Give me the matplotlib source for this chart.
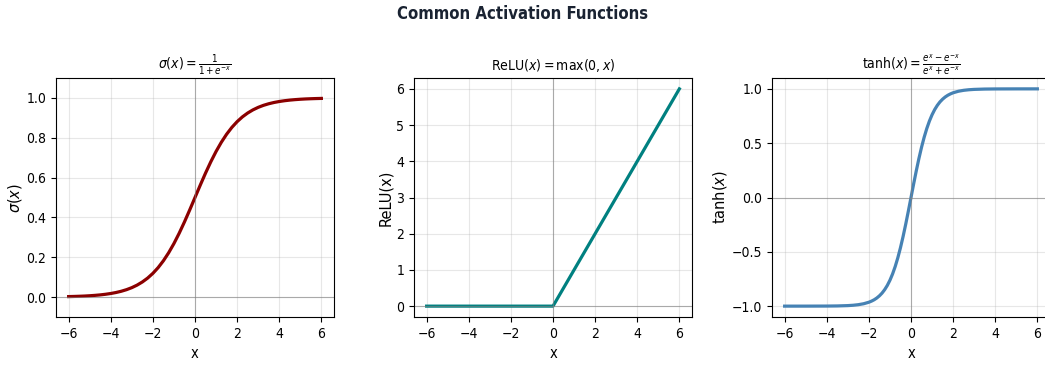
import matplotlib
matplotlib.use("Agg")
import matplotlib.pyplot as plt
from matplotlib import font_manager

# ---- data ----
sig_x = [-6, -5.75, -5.5, -5.25, -5, -4.75, -4.5, -4.25, -4, -3.75, -3.5,
         -3.25, -3, -2.75, -2.5, -2.25, -2, -1.75, -1.5, -1.25, -1, -0.75,
         -0.5, -0.25, 0, 0.25, 0.5, 0.75, 1, 1.25, 1.5, 1.75, 2, 2.25, 2.5,
         2.75, 3, 3.25, 3.5, 3.75, 4, 4.25, 4.5, 4.75, 5, 5.25, 5.5, 5.75, 6]
sig_y = [0.0025, 0.0032, 0.0041, 0.0052, 0.0067, 0.0086, 0.0110, 0.0141,
         0.0180, 0.0230, 0.0293, 0.0373, 0.0474, 0.0601, 0.0759, 0.0953,
         0.1192, 0.1480, 0.1824, 0.2227, 0.2689, 0.3208, 0.3775, 0.4378,
         0.5, 0.5622, 0.6225, 0.6792, 0.7311, 0.7773, 0.8176, 0.8520,
         0.8808, 0.9047, 0.9241, 0.9399, 0.9526, 0.9627, 0.9707, 0.9770,
         0.9820, 0.9859, 0.9890, 0.9914, 0.9933, 0.9948, 0.9959, 0.9968,
         0.9975]

relu_x = [-6, 0, 6]
relu_y = [0, 0, 6]

tanh_x = [-6, -5, -4, -3.5, -3, -2.75, -2.5, -2.25, -2, -1.875, -1.75,
          -1.625, -1.5, -1.375, -1.25, -1.125, -1, -0.875, -0.75, -0.625,
          -0.5, -0.375, -0.25, -0.125, 0, 0.125, 0.25, 0.375, 0.5, 0.625,
          0.75, 0.875, 1, 1.125, 1.25, 1.375, 1.5, 1.625, 1.75, 1.875, 2,
          2.25, 2.5, 2.75, 3, 3.5, 4, 5, 6]
tanh_y = [-1.0, -0.9999, -0.9993, -0.9982, -0.9951, -0.9919, -0.9866,
          -0.9780, -0.9640, -0.9539, -0.9414, -0.9254, -0.9051, -0.8800,
          -0.8483, -0.8094, -0.7616, -0.7039, -0.6351, -0.5546, -0.4621,
          -0.3584, -0.2449, -0.1244, 0.0, 0.1244, 0.2449, 0.3584, 0.4621,
          0.5546, 0.6351, 0.7039, 0.7616, 0.8094, 0.8483, 0.8800, 0.9051,
          0.9254, 0.9414, 0.9539, 0.9640, 0.9780, 0.9866, 0.9919, 0.9951,
          0.9982, 0.9993, 0.9999, 1.0]

x_ticks = [-6, -4, -2, 0, 2, 4, 6]
y_ticks = [[0.0, 0.2, 0.4, 0.6, 0.8, 1.0],
           [0, 1, 2, 3, 4, 5, 6],
           [-1.0, -0.5, 0.0, 0.5, 1.0]]
y_ticklabels = [["0.0", "0.2", "0.4", "0.6", "0.8", "1.0"],
                ["0", "1", "2", "3", "4", "5", "6"],
                ["\u22121.0", "\u22120.5", "0.0", "0.5", "1.0"]]
x_ticklabels = ["\u22126", "\u22124", "\u22122", "0", "2", "4", "6"]

titles = [r"$\sigma(x) = \frac{1}{1+e^{-x}}$",
          r"$\mathrm{ReLU}(x) = \max(0, x)$",
          r"$\tanh(x) = \frac{e^x - e^{-x}}{e^x + e^{-x}}$"]
ylabels = [r"$\sigma(x)$", "ReLU(x)", r"$\tanh(x)$"]
suptitle = "Common Activation Functions"
colors = ["#8B0000", "#008080", "#4682B4"]
ylims = [(-0.1, 1.1), (-0.3, 6.3), (-1.1, 1.1)]

names = {f.name for f in font_manager.fontManager.ttflist}
fam = "DejaVu Sans Condensed" if "DejaVu Sans Condensed" in names else "DejaVu Sans"
plt.rcParams["font.family"] = [fam, "DejaVu Sans"]
plt.rcParams["font.stretch"] = "normal"
plt.rcParams["mathtext.fontset"] = "custom"
plt.rcParams["mathtext.rm"] = fam + ":stretch=condensed"
plt.rcParams["mathtext.it"] = fam + ":italic:stretch=condensed"
plt.rcParams["mathtext.bf"] = fam + ":bold:stretch=condensed"
plt.rcParams["mathtext.sf"] = fam + ":stretch=condensed"
COND = "condensed"

fig = plt.figure(figsize=(10.45, 3.65), dpi=100)
lefts = [56 / 1045, 414 / 1045, 772 / 1045]
w = 278 / 1045
b = 48 / 365
h = 239 / 365

data = [(sig_x, sig_y), (relu_x, relu_y), (tanh_x, tanh_y)]
for i, (xs, ys) in enumerate(data):
    ax = fig.add_axes([lefts[i], b, w, h])
    ax.plot(xs, ys, color=colors[i], linewidth=2.3,
            solid_joinstyle="round")
    ax.axhline(0, color="gray", linewidth=0.8, alpha=0.6)
    ax.axvline(0, color="gray", linewidth=0.8, alpha=0.6)
    ax.grid(True, alpha=0.3)
    ax.set_ylim(*ylims[i])
    ax.set_xticks(x_ticks)
    ax.set_xticklabels(x_ticklabels, fontsize=10, fontstretch=COND)
    ax.set_yticks(y_ticks[i])
    ax.set_yticklabels(y_ticklabels[i], fontsize=10, fontstretch=COND)
    ax.set_title(titles[i], fontsize=10, fontstretch=COND)
    ax.set_xlabel("x", fontsize=10.5, fontstretch=COND)
    ax.set_ylabel(ylabels[i], fontsize=10.5, family="DejaVu Sans",
                  fontstretch="normal", math_fontfamily="dejavusans",
                  labelpad=2)

fig.suptitle(suptitle, fontsize=12, fontweight="bold", color="#1a2332",
             fontstretch=COND, y=0.985)
fig.savefig("out.png", dpi=100)
